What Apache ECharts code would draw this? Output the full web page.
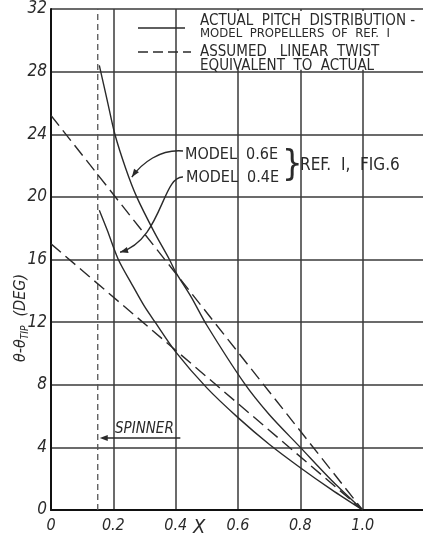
<!DOCTYPE html>
<html>
<head>
<meta charset="utf-8">
<script src="https://cdn.jsdelivr.net/npm/echarts@6/dist/echarts.min.js"></script>
<style>
  html, body { margin: 0; padding: 0; background: #fff; }
  #chart { width: 423px; height: 538px; }
</style>
</head>
<body>
<div id="chart"></div>
<script>
// Blade pitch distributions: actual (solid) vs. equivalent linear twist (dashed)
const spinnerX = 0.15;

const actual06X = [0.155, 0.18, 0.205, 0.24, 0.275, 0.33, 0.38, 0.40, 0.45, 0.50, 0.62, 0.70, 0.80, 0.90, 1.0];
const actual06Y = [28.4, 26.2, 24.0, 21.8, 20.0, 17.8, 16.0, 15.2, 13.6, 11.8, 8.1, 6.1, 4.0, 1.9, 0];

const actual04X = [0.155, 0.18, 0.216, 0.26, 0.30, 0.334, 0.40, 0.50, 0.60, 0.70, 0.80, 0.90, 1.0];
const actual04Y = [19.15, 17.9, 16.0, 14.4, 13.0, 12.0, 10.1, 7.8, 5.9, 4.2, 2.7, 1.3, 0];

const linear06X = [0, 1.0];
const linear06Y = [25.2, 0];
const linear04X = [0, 1.0];
const linear04Y = [17.0, 0];

const xTicks = [0, 0.2, 0.4, 0.6, 0.8, 1.0];
const yTicks = [0, 4, 8, 12, 16, 20, 24, 28, 32];

const FONT = "'Liberation Sans Narrow', 'DejaVu Sans Condensed', 'Liberation Sans', sans-serif";
const INK = '#2a2a2a';

const pairs = (xs, ys) => xs.map((x, i) => [x, ys[i]]);

const chart = echarts.init(document.getElementById('chart'), null, { renderer: 'canvas' });

const curveStyle = { color: INK, width: 1.4 };
const dashStyle = { color: INK, width: 1.4, type: [13, 6] };

chart.setOption({
  backgroundColor: '#fff',
  animation: false,
  grid: { left: 51, top: 9, width: 374, height: 501, containLabel: false, outerBoundsMode: 'none' },
  xAxis: {
    type: 'value', min: 0, max: 1.2, interval: 0.2,
    axisLine: { show: true, lineStyle: { color: '#111', width: 2 } },
    axisTick: { show: false },
    splitLine: { show: true, lineStyle: { color: '#3a3a3a', width: 1.5 } },
    axisLabel: {
      margin: 8, color: INK, fontFamily: FONT, fontStyle: 'italic', fontSize: 16,
      formatter: v => {
        const t = xTicks.find(k => Math.abs(k - v) < 1e-6);
        if (t === undefined) return '';
        return t === 0 ? '0' : t.toFixed(1);
      }
    }
  },
  yAxis: {
    type: 'value', min: 0, max: 32, interval: 4,
    axisLine: { show: true, lineStyle: { color: '#111', width: 2 } },
    axisTick: { show: false },
    splitLine: { show: true, lineStyle: { color: '#3a3a3a', width: 1.5 } },
    axisLabel: {
      margin: 4, color: INK, fontFamily: FONT, fontStyle: 'italic', fontSize: 17,
      formatter: v => (yTicks.indexOf(v) >= 0 ? String(v) : '')
    }
  },
  series: [
    {
      name: 'spinner', type: 'line', data: [[spinnerX, 0], [spinnerX, 32]],
      showSymbol: false, lineStyle: { color: '#555', width: 1.3, type: [6, 4] }, z: 3,
      markArea: {
        silent: true,
        itemStyle: { color: '#fff', opacity: 1 },
        data: [[{ coord: [0.43, 28.12] }, { coord: [1.2, 31.88] }]]
      }
    },
    { name: 'actual 0.6E', type: 'line', data: pairs(actual06X, actual06Y), smooth: 0.3, showSymbol: false, lineStyle: curveStyle, z: 4 },
    { name: 'actual 0.4E', type: 'line', data: pairs(actual04X, actual04Y), smooth: 0.3, showSymbol: false, lineStyle: curveStyle, z: 4 },
    { name: 'linear 0.6E', type: 'line', data: pairs(linear06X, linear06Y), showSymbol: false, lineStyle: dashStyle, z: 4 },
    { name: 'linear 0.4E', type: 'line', data: pairs(linear04X, linear04Y), showSymbol: false, lineStyle: dashStyle, z: 4 }
  ]
});

// Annotations: legend, labels, arrows
const P = (x, y) => chart.convertToPixel({ gridIndex: 0 }, [x, y]);
const txt = (x, y, s, size, extra) => Object.assign({
  type: 'text', x, y, z: 20,
  style: Object.assign({ text: s, fill: INK, font: size + 'px ' + FONT, textVerticalAlign: 'middle' }, extra || {})
});

function arrowHead(tip, from, len, half) {
  const dx = tip[0] - from[0], dy = tip[1] - from[1];
  const d = Math.hypot(dx, dy) || 1;
  const ux = dx / d, uy = dy / d;
  const bx = tip[0] - ux * len, by = tip[1] - uy * len;
  return {
    type: 'polygon', z: 20,
    shape: { points: [tip, [bx - uy * half, by + ux * half], [bx + uy * half, by - ux * half]] },
    style: { fill: INK }
  };
}

const tip06 = P(0.253, 21.2);
const tip04 = P(0.212, 16.4);
const a06 = { p1: [183, 151], c1: [160, 149], c2: [142, 163], p2: [tip06[0] + 2, tip06[1] - 1] };
const a04 = { p1: [183, 177], c1: [162, 176], c2: [162, 240], p2: [tip04[0] + 3, tip04[1] - 1] };

// spinner note arrow sits just above the 4-degree grid line
const spinArrow = P(spinnerX, 4.6);
const spinEnd = P(0.415, 4.6);

const graphics = [
  // legend
  { type: 'line', z: 20, shape: { x1: 138, y1: 28, x2: 185, y2: 28 }, style: { stroke: INK, lineWidth: 1.4 } },
  { type: 'line', z: 20, shape: { x1: 138, y1: 52, x2: 191, y2: 52 }, style: { stroke: INK, lineWidth: 1.4, lineDash: [10, 5] } },
  txt(200, 21, 'ACTUAL  PITCH  DISTRIBUTION -', 15),
  txt(200, 34, 'MODEL  PROPELLERS  OF  REF.  I', 13),
  txt(200, 52, 'ASSUMED   LINEAR  TWIST', 15),
  txt(200, 66, 'EQUIVALENT  TO  ACTUAL', 15),
  // model labels
  txt(185, 155, 'MODEL  0.6E', 16),
  txt(186, 178, 'MODEL  0.4E', 16),
  txt(282, 166, '}', 36, { font: '300 36px ' + FONT }),
  txt(300, 166, 'REF.  I,  FIG.6', 17),
  // arrows to curves
  { type: 'bezierCurve', z: 20, shape: { x1: a06.p1[0], y1: a06.p1[1], cpx1: a06.c1[0], cpy1: a06.c1[1], cpx2: a06.c2[0], cpy2: a06.c2[1], x2: a06.p2[0], y2: a06.p2[1] }, style: { stroke: INK, lineWidth: 1.4, fill: null } },
  arrowHead(a06.p2, a06.c2, 8, 3),
  { type: 'bezierCurve', z: 20, shape: { x1: a04.p1[0], y1: a04.p1[1], cpx1: a04.c1[0], cpy1: a04.c1[1], cpx2: a04.c2[0], cpy2: a04.c2[1], x2: a04.p2[0], y2: a04.p2[1] }, style: { stroke: INK, lineWidth: 1.4, fill: null } },
  arrowHead(a04.p2, a04.c2, 8, 3),
  // spinner note
  txt(115, spinArrow[1] - 9, 'SPINNER', 15, { font: 'italic 15px ' + FONT }),
  { type: 'line', z: 20, shape: { x1: spinEnd[0], y1: spinArrow[1], x2: spinArrow[0] + 8, y2: spinArrow[1] }, style: { stroke: INK, lineWidth: 1.3 } },
  arrowHead([spinArrow[0] + 2, spinArrow[1]], [spinEnd[0], spinArrow[1]], 8, 3),
  // axis titles
  txt(193, 528, 'X', 20, { font: 'italic 20px ' + FONT }),
  {
    type: 'text', z: 20, x: 21, y: 318, rotation: Math.PI / 2,
    style: {
      text: '{m|θ-θ}{s|TIP}{m|  (DEG)}',
      align: 'center', verticalAlign: 'middle',
      rich: {
        m: { fill: INK, font: 'italic 16px ' + FONT },
        s: { fill: INK, font: 'italic 10px ' + FONT, padding: [8, 0, 0, 0] }
      }
    }
  }
];

chart.setOption({ graphic: graphics });
</script>
</body>
</html>
